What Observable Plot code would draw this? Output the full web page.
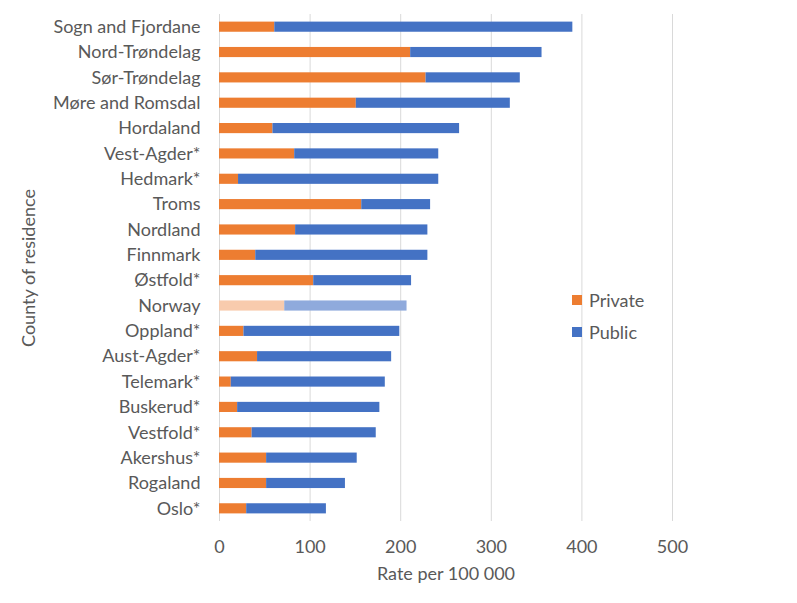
<!DOCTYPE html>
<html>
<head>
<meta charset="utf-8">
<script src="https://cdn.jsdelivr.net/npm/d3@7"></script>
<script src="https://cdn.jsdelivr.net/npm/@observablehq/plot@0.6"></script>
<style>
  html, body { margin: 0; padding: 0; background: #fff; }
  #wrap { position: relative; width: 797px; height: 603px; }
  .legend { position: absolute; left: 572px; top: 284px; font-family: Lato, sans-serif; font-size: 18px; color: #595959; }
  .legend .item { display: flex; align-items: center; height: 32px; }
  .legend .sw { width: 10px; height: 10px; margin-right: 7px; }
</style>
</head>
<body>
<div id="wrap"></div>
<script>
const counties = ["Sogn and Fjordane","Nord-Trøndelag","Sør-Trøndelag","Møre and Romsdal","Hordaland","Vest-Agder*","Hedmark*","Troms","Nordland","Finnmark","Østfold*","Norway","Oppland*","Aust-Agder*","Telemark*","Buskerud*","Vestfold*","Akershus*","Rogaland","Oslo*"];
const privateRate = [61,211,228,151,59,83,21,157,84,40,104,72,27,42,13,20,36,52,52,30];
const publicRate  = [329,145,104,170,206,159,221,76,146,190,108,135,172,148,170,157,137,100,87,88];
const series = ["Private","Public"];
const xTicks = [0,100,200,300,400,500];

const rows = [];
counties.forEach((c, i) => {
  rows.push({county: c, type: "Private", value: privateRate[i], key: c === "Norway" ? "Private (Norway)" : "Private"});
  rows.push({county: c, type: "Public", value: publicRate[i], key: c === "Norway" ? "Public (Norway)" : "Public"});
});

const chart = Plot.plot({
  width: 797,
  height: 603,
  marginTop: 14,
  marginBottom: 82,
  marginLeft: 219,
  marginRight: 125,
  style: {fontFamily: "Lato, sans-serif", fontSize: "18px", color: "#595959", background: "#fff"},
  x: {domain: [0, 500], ticks: xTicks},
  y: {domain: counties, paddingInner: 0.6, paddingOuter: 0.3, align: 0.5, round: false},
  color: {domain: ["Private","Public","Private (Norway)","Public (Norway)"], range: ["#ED7D31","#4472C4","#F8CBAD","#8FAADC"]},
  marks: [
    Plot.gridX(xTicks, {stroke: "#D9D9D9", strokeOpacity: 1, y1: null, y2: null}),
    Plot.barX(rows, Plot.stackX({y: "county", x: "value", fill: "key", order: null})),
    Plot.axisX({ticks: xTicks, tickSize: 0, tickPadding: 19, label: "Rate per 100 000", labelAnchor: "center", labelArrow: "none", labelOffset: 58}),
    Plot.axisY({tickSize: 0, tickPadding: 19, label: "County of residence", labelAnchor: "center", labelArrow: "none", labelOffset: 197})
  ]
});
document.getElementById("wrap").appendChild(chart);

const colors = {Private: "#ED7D31", Public: "#4472C4"};
const legend = d3.select("#wrap").append("div").attr("class", "legend");
series.forEach(s => {
  const it = legend.append("div").attr("class", "item");
  it.append("div").attr("class", "sw").style("background", colors[s]);
  it.append("span").text(s);
});
</script>
</body>
</html>
